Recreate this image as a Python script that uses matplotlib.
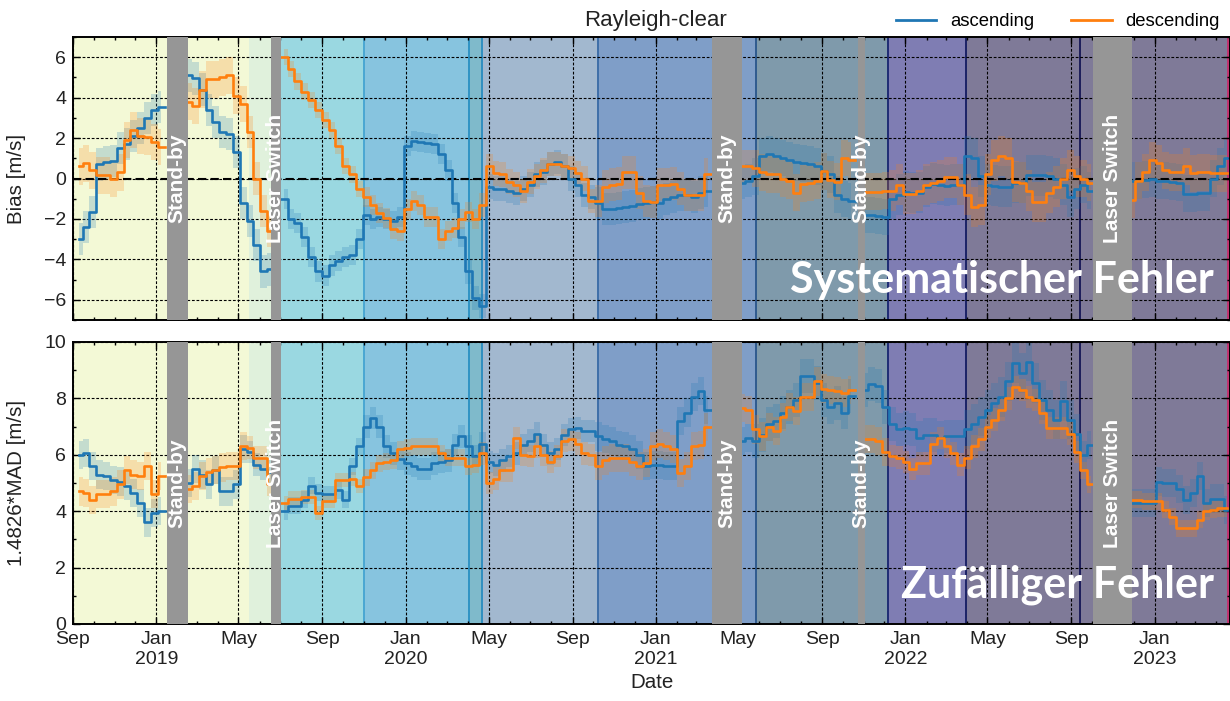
import numpy as np
import pandas as pd
import matplotlib
matplotlib.use("Agg")
import matplotlib.pyplot as plt
import matplotlib.dates as mdates
import matplotlib.transforms as mtransforms
from matplotlib.lines import Line2D
from matplotlib.ticker import MultipleLocator, FuncFormatter

plt.rcParams["font.family"] = ["Liberation Sans", "DejaVu Sans"]

nan = np.nan

# 10-day running statistics, Rayleigh clear-sky winds
dates = pd.date_range("2018-09-10", periods=169, freq="10D")

bias_asc = [
    -3.0, -2.4, -1.65, 0.7, 0.8, 0.85, 1.5, 1.7, 2.1, 2.5,
    3.0, 3.4, 3.55, nan, nan, nan, 5.1, 4.95, 4.4, 3.4,
    2.8, 2.3, 2.2, 1.3, -1.2, -2.1, -3.3, -4.6, -4.5, nan,
    -1.0, -2.0, -2.2, -2.9, -3.9, -4.6, -4.8, -4.3, -4.1, -3.9,
    -3.8, -3.0, -1.8, -2.0, -1.9, -2.0, -2.1, -1.9, 1.6, 1.85,
    1.8, 1.75, 1.7, 1.2, 0.4, -1.2, -2.9, -4.6, -5.9, -6.3,
    -0.4, -0.5, -0.5, -0.6, -0.7, -0.5, -0.3, 0.2, 0.3, 0.7,
    0.8, 0.6, 0.0, -0.3, -0.8, -0.9, -1.2, -1.5, -1.5, -1.45,
    -1.4, -1.35, -1.25, -1.2, -1.15, -1.2, -1.0, -0.9, -0.8, -0.8,
    -0.9, -0.7, -0.6, nan, nan, nan, nan, -0.2, -0.1, 0.1,
    1.1, 1.2, 1.1, 1.0, 0.9, 0.8, 0.75, 0.7, 0.6, 0.35,
    0.2, -0.8, -1.0, -1.1, nan, -1.8, -1.8, -1.85, -1.9, -1.0,
    -0.8, -0.65, -0.7, -0.7, -0.4, -0.25, -0.3, -0.35, -0.3, -0.3,
    1.1, 1.0, 0.1, -0.3, -0.35, -0.4, -0.4, -0.2, -0.2, 0.15,
    0.15, 0.15, 0.1, 0.0, -0.3, -0.9, -0.5, -0.3, -0.6, nan,
    nan, nan, nan, nan, -0.1, -0.1, -0.05, 0.0, -0.1, -0.1,
    -0.15, -0.2, -0.75, -0.75, -0.7, -0.7, 0.0, 0.6, 1.0,
]

bias_desc = [
    0.6, 0.75, 0.4, 0.15, 0.15, 0.0, 0.3, 1.9, 2.4, 2.1,
    2.05, 1.8, 1.55, nan, nan, nan, 3.8, 3.6, 4.4, 4.9,
    4.9, 5.0, 5.1, 4.1, 3.7, 2.3, 0.0, -1.6, -2.6, nan,
    6.0, 5.4, 4.8, 4.3, 3.9, 3.4, 2.9, 2.4, 1.6, 0.6,
    0.2, -0.5, -0.9, -1.3, -1.7, -1.95, -2.5, -2.6, -1.5, -1.1,
    -1.3, -1.9, -1.9, -3.0, -2.6, -2.45, -2.0, -1.65, -2.0, -1.3,
    0.6, 0.25, 0.2, -0.15, -0.3, -0.6, -0.15, 0.1, 0.4, 0.7,
    0.7, 0.6, 0.5, 0.25, 0.0, -1.1, -1.1, -0.4, -0.3, -0.25,
    0.3, 0.3, -0.7, -1.1, -1.15, -0.3, -0.3, -0.25, -0.5, -0.8,
    -0.8, -0.8, 0.2, nan, nan, nan, nan, 0.6, 0.6, 0.5,
    0.3, 0.2, 0.2, 0.0, -0.1, -0.7, -0.25, -0.2, -0.1, 0.35,
    -0.05, -0.15, 1.0, 0.9, nan, -0.65, -0.65, -0.65, -0.6, -0.6,
    -0.3, -0.75, -0.75, -0.6, -0.3, -0.2, -0.1, 0.05, 0.05, -0.3,
    -0.8, -1.4, -1.3, 0.2, 0.9, 1.1, 1.0, -0.15, -0.2, -0.6,
    -1.15, -1.15, -0.7, -0.4, 0.0, 0.4, 0.1, 0.0, -0.2, nan,
    nan, nan, nan, nan, -1.07, -0.1, 0.3, 0.9, 0.75, 0.4,
    0.3, 0.3, 0.6, 0.25, 0.3, 0.3, 0.25, 0.25, 0.25,
]

mad_asc = [
    6.0, 6.05, 5.6, 5.3, 5.25, 5.1, 5.05, 4.9, 4.65, 4.3,
    3.6, 3.95, 4.0, nan, nan, nan, 5.0, 5.5, 5.3, 4.95,
    5.45, 4.7, 4.7, 4.95, 6.2, 6.1, 5.65, 5.5, 5.4, nan,
    4.0, 4.2, 4.2, 4.4, 4.9, 4.65, 4.6, 4.6, 4.75, 4.4,
    5.6, 6.3, 7.0, 7.3, 7.0, 6.3, 6.05, 5.85, 5.7, 5.6,
    5.5, 5.5, 5.7, 5.75, 5.8, 6.35, 6.65, 6.3, 5.95, 6.4,
    5.75, 5.65, 5.8, 5.95, 6.05, 6.35, 6.5, 6.75, 6.35, 6.05,
    6.2, 6.7, 6.9, 6.95, 6.85, 6.85, 6.65, 6.55, 6.5, 6.35,
    6.3, 6.2, 6.0, 5.6, 5.65, 5.65, 5.6, 5.6, 7.2, 7.5,
    8.05, 8.25, 7.6, nan, nan, nan, nan, 6.5, 6.6, 6.5,
    6.7, 7.1, 7.2, 7.5, 7.7, 7.95, 8.8, 8.8, 8.55, 7.95,
    7.7, 7.85, 7.5, 8.1, nan, 8.3, 8.5, 8.45, 7.7, 7.1,
    6.9, 6.95, 6.9, 6.6, 6.7, 6.7, 6.6, 6.65, 6.65, 6.65,
    6.9, 7.1, 7.35, 7.6, 7.85, 8.05, 8.6, 9.25, 8.9, 9.3,
    8.55, 7.95, 7.6, 7.25, 7.9, 7.25, 6.75, 6.0, 6.35, nan,
    nan, nan, nan, nan, 4.3, 4.3, 4.3, 4.3, 5.05, 5.0,
    5.0, 4.8, 4.4, 4.65, 5.25, 4.3, 4.45, 4.45, 4.05,
]

mad_desc = [
    4.7, 4.65, 4.4, 4.6, 4.6, 4.7, 4.95, 5.45, 5.3, 5.25,
    5.6, 4.6, 5.25, nan, nan, nan, 4.8, 4.9, 5.25, 5.4,
    5.45, 5.55, 5.6, 5.6, 6.3, 6.25, 5.9, 5.9, 4.95, nan,
    4.3, 4.45, 4.45, 4.5, 4.5, 3.95, 4.35, 4.35, 5.1, 5.1,
    5.15, 4.9, 5.2, 5.45, 5.7, 5.75, 5.8, 6.2, 6.25, 6.3,
    6.3, 6.3, 6.3, 6.05, 5.9, 5.9, 5.9, 5.6, 5.65, 6.05,
    5.0, 5.15, 5.45, 5.45, 6.6, 6.0, 5.95, 6.3, 6.0, 5.75,
    5.95, 6.5, 6.55, 6.4, 6.05, 6.0, 5.6, 5.8, 5.9, 5.9,
    5.9, 5.75, 5.6, 5.7, 6.3, 6.4, 6.3, 6.2, 5.35, 5.6,
    6.3, 6.35, 7.0, nan, nan, nan, nan, 7.65, 7.6, 6.9,
    6.65, 7.0, 6.85, 7.35, 7.7, 7.55, 8.05, 8.05, 8.6, 8.35,
    8.3, 8.25, 8.2, 8.3, nan, 6.55, 6.55, 6.5, 6.1, 5.95,
    5.9, 5.75, 5.5, 5.7, 5.7, 6.4, 6.6, 6.3, 6.05, 5.65,
    5.9, 6.3, 6.55, 7.0, 7.25, 7.6, 8.0, 8.4, 8.3, 8.05,
    7.95, 7.5, 6.95, 6.95, 6.95, 6.75, 6.1, 5.45, 4.95, nan,
    nan, nan, nan, nan, 4.4, 4.4, 4.35, 4.35, 4.35, 4.05,
    3.8, 3.4, 3.4, 3.4, 3.7, 4.0, 4.05, 4.1, 4.1,
]

# processing baselines: start date and background colour
period_starts = pd.to_datetime([
    "2018-08-01", "2019-05-16", "2019-07-02", "2019-11-01", "2020-04-02",
    "2020-04-21", "2020-10-08", "2021-05-27", "2021-12-06", "2022-03-30",
    "2022-09-13", "2023-04-18",
])
period_ends = list(period_starts[1:]) + [pd.Timestamp("2023-06-01")]
period_colors = [
    "#f3f9d6", "#e0f1dc", "#9ad8e1", "#87c4df", "#7fbacb",
    "#a2b8cf", "#7f9ec8", "#7f9aab", "#7f7db3", "#7f7a98",
    "#7f7a98", "#a07a98",
]
period_edges = [
    None, None, None, "#4aa7d2", "#2f93c4",
    "#2f8ec0", "#3f6fa8", "#2f5b8f", "#1f2c74", "#1c2266",
    "#1c1c5a", "#c2336f",
]

# half-width of the shaded bands in each baseline period
bias_asc_spread = [0.8, 0.8, 0.5, 0.5, 0.6, 0.6, 0.8, 0.9, 1.0, 1.0, 0.9, 0.9]
bias_desc_spread = [0.9, 0.8, 0.4, 0.5, 0.5, 0.6, 0.8, 0.9, 1.0, 1.0, 0.9, 0.9]
mad_asc_spread = [0.5, 0.4, 0.3, 0.4, 0.4, 0.4, 0.5, 0.6, 0.6, 0.7, 0.5, 0.5]
mad_desc_spread = [0.5, 0.4, 0.25, 0.3, 0.3, 0.4, 0.5, 0.5, 0.4, 0.4, 0.3, 0.3]

# instrument outages
outages = [
    ("2019-01-16", "2019-02-16", "Stand-by"),
    ("2019-06-17", "2019-07-02", "Laser Switch"),
    ("2021-03-24", "2021-05-07", "Stand-by"),
    ("2021-10-23", "2021-11-03", "Stand-by"),
    ("2022-10-03", "2022-11-28", "Laser Switch"),
]

C_ASC = "#1f77b4"
C_DESC = "#ff7f0e"
TXT = "#222222"

period_idx = np.searchsorted(period_starts.values, dates.values, side="right") - 1


def month_label(x, pos):
    d = mdates.num2date(x)
    lab = d.strftime("%b")
    if d.month == 1:
        lab += "\n%d" % d.year
    return lab


def draw_panel(ax, asc, desc, asc_spread, desc_spread):
    for s, e, c, edge in zip(period_starts, period_ends, period_colors, period_edges):
        ax.axvspan(s, e, color=c, lw=0, zorder=0)
        if edge is not None:
            ax.axvline(s, color=edge, lw=1.4, zorder=0.6)

    for vals, spread, col in ((asc, asc_spread, C_ASC), (desc, desc_spread, C_DESC)):
        v = np.asarray(vals, dtype=float)
        sp = np.asarray(spread)[period_idx]
        ax.fill_between(dates, v - sp, v + sp, step="mid", color=col,
                        alpha=0.22, lw=0, zorder=2)
        ax.step(dates, v, where="mid", color=col, lw=1.9, zorder=3)

    trans = mtransforms.blended_transform_factory(ax.transData, ax.transAxes)
    for s, e, lab in outages:
        s, e = pd.Timestamp(s), pd.Timestamp(e)
        ax.axvspan(s, e, color="#969696", lw=0, zorder=4)
        ax.text(s + (e - s) / 2, 0.5, lab, transform=trans, rotation=90,
                ha="center", va="center", color="white", fontsize=15,
                fontweight="bold", zorder=5)

    ax.grid(True, which="major", color="black", lw=0.8, ls=(0, (2.5, 1.6)))
    ax.xaxis.set_major_locator(mdates.MonthLocator(bymonth=[1, 5, 9]))
    ax.xaxis.set_minor_locator(mdates.MonthLocator())
    ax.xaxis.set_major_formatter(FuncFormatter(month_label))
    ax.yaxis.set_major_locator(MultipleLocator(2))
    ax.yaxis.set_minor_locator(MultipleLocator(1))
    ax.tick_params(which="both", direction="in", top=True, right=True,
                   labelsize=14, labelcolor=TXT, width=1.0)
    ax.tick_params(which="major", length=5, pad=5)
    ax.tick_params(which="minor", length=2.5)
    for sp in ax.spines.values():
        sp.set_linewidth(1.4)
    ax.set_xlim(pd.Timestamp("2018-09-01"), pd.Timestamp("2023-04-21"))


fig = plt.figure(figsize=(12.3, 7.01), dpi=100)
ax_top = fig.add_axes([73 / 1230, 1 - 320 / 701, 1157 / 1230, 283 / 701])
ax_bot = fig.add_axes([73 / 1230, 1 - 624 / 701, 1157 / 1230, 282 / 701])

draw_panel(ax_top, bias_asc, bias_desc, bias_asc_spread, bias_desc_spread)
draw_panel(ax_bot, mad_asc, mad_desc, mad_asc_spread, mad_desc_spread)

ax_top.axhline(0, color="black", lw=1.5, ls=(0, (4, 2)), zorder=2.5)
ax_top.set_ylim(-7, 7)
ax_top.tick_params(labelbottom=False)
ax_bot.set_ylim(0, 10)

ax_top.set_ylabel("Bias [m/s]", fontsize=14.8, color=TXT)
ax_bot.set_ylabel("1.4826*MAD [m/s]", fontsize=14.8, color=TXT)
for ax in (ax_top, ax_bot):
    ax.yaxis.set_label_coords(-0.041, 0.5)
ax_bot.set_xlabel("Date", fontsize=14.8, color=TXT, labelpad=4)

fig.text(656 / 1230, 1 - 26 / 701, "Rayleigh-clear", ha="center",
         va="baseline", fontsize=16, color=TXT)

handles = [Line2D([], [], color=C_ASC, lw=2), Line2D([], [], color=C_DESC, lw=2)]
fig.legend(handles, ["ascending", "descending"], loc="center right",
           bbox_to_anchor=(1220 / 1230, 1 - 22 / 701), ncol=2, frameon=False,
           fontsize=13.3, handlelength=2.2, handletextpad=0.75,
           columnspacing=2.0, borderpad=0, borderaxespad=0)

for ax, lab in ((ax_top, "Systematischer Fehler"), (ax_bot, "Zufälliger Fehler")):
    ax.text(0.986, 0.095, lab, transform=ax.transAxes, ha="right",
            va="baseline", color="white", fontsize=31, fontweight="bold",
            family=["Lato", "DejaVu Sans"], zorder=7)

fig.savefig("out.png", dpi=100)
